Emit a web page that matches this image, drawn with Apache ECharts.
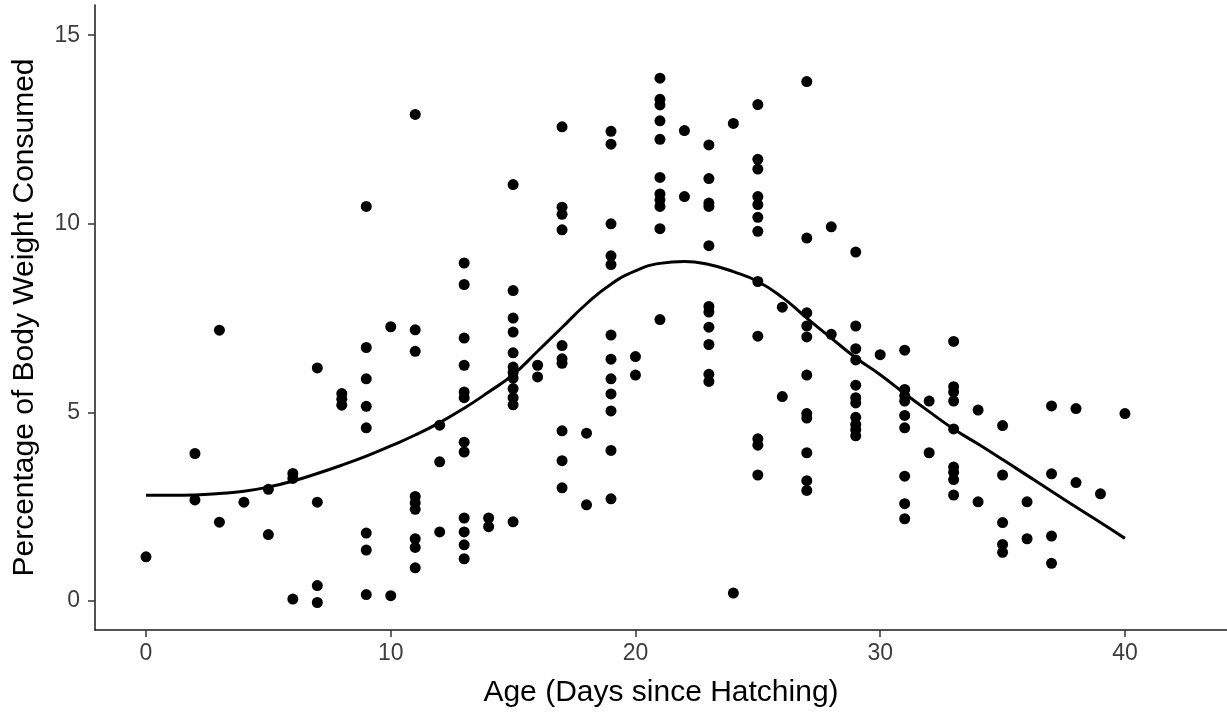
<!DOCTYPE html>
<html>
<head>
<meta charset="utf-8">
<script src="https://cdn.jsdelivr.net/npm/echarts@6/dist/echarts.min.js"></script>
<style>
  html, body { margin: 0; padding: 0; background: #fff; }
  #main { width: 1227px; height: 721px; }
</style>
</head>
<body>
<div id="main"></div>
<script>
// observed values, one group of readings per age (days since hatching)
var ages = [0, 2, 3, 4, 5, 6, 7, 8, 9, 10, 11, 12, 13, 14, 15, 16, 17, 18, 19, 20,
            21, 22, 23, 24, 25, 26, 27, 28, 29, 30, 31, 32, 33, 34, 35, 36, 37, 38, 39, 40];
var pctByAge = [
    [1.17],
    [3.91, 2.68],
    [7.18, 2.09],
    [2.62],
    [2.96, 1.76],
    [3.38, 3.25, 0.05],
    [6.18, 2.62, 0.41, -0.04],
    [5.50, 5.35, 5.19],
    [10.46, 6.72, 5.89, 5.16, 4.59, 1.80, 1.35, 0.17],
    [7.27, 0.14],
    [12.90, 7.19, 6.62, 2.77, 2.60, 2.43, 1.65, 1.42, 0.88],
    [4.66, 3.69, 1.83],
    [8.96, 8.39, 6.97, 6.25, 5.54, 5.39, 4.21, 3.95, 2.20, 1.83, 1.49, 1.12],
    [2.20, 1.97],
    [11.04, 8.23, 7.50, 7.13, 6.58, 6.20, 6.06, 5.91, 5.63, 5.39, 5.20, 2.10],
    [6.25, 5.94],
    [12.57, 10.44, 10.25, 9.84, 6.77, 6.42, 6.30, 4.51, 3.72, 3.00],
    [4.45, 2.55],
    [12.45, 12.11, 10.00, 9.15, 8.92, 7.05, 6.41, 5.89, 5.49, 5.04, 3.99, 2.71],
    [6.48, 5.99],
    [13.86, 13.30, 13.15, 12.73, 12.24, 11.23, 10.79, 10.63, 10.46, 9.87, 7.46],
    [12.47, 10.72],
    [12.09, 11.20, 10.55, 10.46, 9.42, 7.81, 7.66, 7.26, 6.80, 6.01, 5.82],
    [12.66, 0.21],
    [13.16, 11.71, 11.45, 10.72, 10.51, 10.17, 9.80, 8.47, 7.02, 4.30, 4.13, 3.34],
    [7.79, 5.42],
    [13.77, 9.62, 7.64, 7.29, 7.00, 5.99, 4.97, 4.85, 3.93, 3.19, 2.93],
    [9.92, 7.07],
    [9.25, 7.29, 6.69, 6.39, 5.72, 5.39, 5.25, 4.87, 4.68, 4.54, 4.38],
    [6.53],
    [6.65, 5.61, 5.44, 5.30, 4.92, 4.59, 3.31, 2.58, 2.18],
    [5.30, 3.93],
    [6.88, 5.68, 5.54, 5.30, 4.56, 3.55, 3.41, 3.22, 2.81],
    [5.06, 2.63],
    [4.65, 3.34, 2.08, 1.50, 1.29],
    [2.63, 1.65],
    [5.17, 3.37, 1.72, 1.00],
    [5.10, 3.14],
    [2.84],
    [4.97]
];

// smoothed trend line
var curveAge = [0, 1, 2, 3, 4, 5, 6, 7, 8, 9, 10, 11, 12, 13, 14, 15, 16, 17, 18, 19, 20,
                21, 22, 23, 24, 25, 26, 27, 28, 29, 30, 31, 32, 33, 34, 35, 36, 37, 38, 39, 40];
var curvePct = [2.80, 2.80, 2.81, 2.85, 2.91, 3.02, 3.18, 3.38, 3.60, 3.84, 4.11,
                4.40, 4.73, 5.11, 5.54, 6.00, 6.62, 7.25, 7.88, 8.40, 8.75,
                8.95, 9.00, 8.92, 8.73, 8.47, 8.05, 7.50, 6.97, 6.45, 6.00,
                5.50, 5.02, 4.56, 4.16, 3.75, 3.33, 2.91, 2.49, 2.08, 1.66];

var xTicks = [0, 10, 20, 30, 40];
var yTicks = [0, 5, 10, 15];

var points = [];
ages.forEach(function (a, i) {
    pctByAge[i].forEach(function (v) { points.push([a, v]); });
});
var curve = curveAge.map(function (a, i) { return [a, curvePct[i]]; });

var myChart = echarts.init(document.getElementById('main'));

var font = '"Liberation Sans", Arial, sans-serif';

option = {
    animation: false,
    backgroundColor: '#ffffff',
    grid: {
        left: 95,
        right: 0,
        top: 5,
        bottom: 91
    },
    xAxis: {
        type: 'value',
        min: -2.084,
        max: 44.17,
        name: 'Age (Days since Hatching)',
        nameLocation: 'middle',
        nameGap: 48,
        nameTextStyle: { fontFamily: font, fontSize: 30, color: '#000' },
        axisLine: { onZero: false, lineStyle: { color: '#1a1a1a', width: 1.5 } },
        axisTick: { customValues: xTicks, length: 7, lineStyle: { color: '#333', width: 1.5 } },
        axisLabel: { customValues: xTicks, margin: 12, fontFamily: font, fontSize: 23, color: '#3d3d3d' },
        splitLine: { show: false }
    },
    yAxis: {
        type: 'value',
        min: -0.769,
        max: 15.8,
        name: 'Percentage of Body Weight Consumed',
        nameLocation: 'middle',
        nameGap: 55,
        nameTextStyle: { fontFamily: font, fontSize: 30, color: '#000' },
        axisLine: { onZero: false, lineStyle: { color: '#1a1a1a', width: 1.5 } },
        axisTick: { customValues: yTicks, length: 7, lineStyle: { color: '#333', width: 1.5 } },
        axisLabel: { customValues: yTicks, margin: 15, fontFamily: font, fontSize: 23, color: '#3d3d3d' },
        splitLine: { show: false }
    },
    series: [
        {
            type: 'scatter',
            data: points,
            symbolSize: 11,
            itemStyle: { color: '#000', opacity: 1 }
        },
        {
            type: 'line',
            data: curve,
            smooth: true,
            showSymbol: false,
            lineStyle: { color: '#000', width: 3 }
        }
    ]
};

myChart.setOption(option);
</script>
</body>
</html>
